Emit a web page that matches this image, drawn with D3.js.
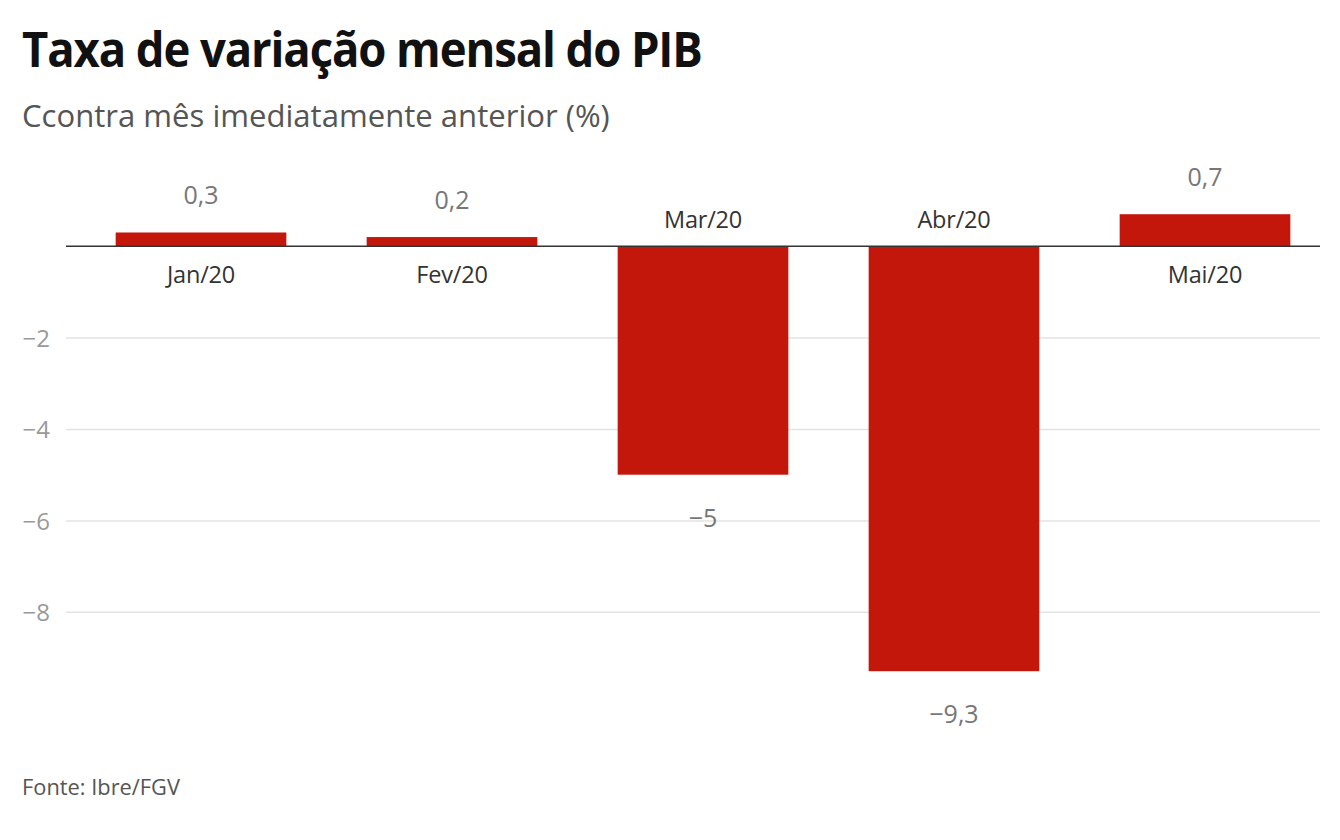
<!DOCTYPE html>
<html><head><meta charset="utf-8">
<script src="https://cdn.jsdelivr.net/npm/d3@7"></script>
<style>
html,body{margin:0;padding:0;background:#fff;}
svg{display:block;font-family:"Open Sans",sans-serif;}
</style></head>
<body><svg id="chart" width="1340" height="840"></svg>
<script>
const categories = ["Jan/20","Fev/20","Mar/20","Abr/20","Mai/20"];
const values = [0.3, 0.2, -5, -9.3, 0.7];
const yTicks = [-2, -4, -6, -8];
const title = "Taxa de variação mensal do PIB";
const subtitle = "Ccontra mês imediatamente anterior (%)";
const source = "Fonte: Ibre/FGV";

const loc = d3.formatLocale({decimal:",", thousands:".", grouping:[3], currency:["R$",""], minus:"\u2212"});
const fmt = loc.format("");
const fmtTick = loc.format("d");

const svg = d3.select("#chart");
const x = d3.scaleBand().domain(categories).range([75.5,1330.5]).paddingInner(0.32).paddingOuter(0.16);
const y = d3.scaleLinear().domain([0,-2]).range([246.2,337.6]);

function fitText(sel, left, width){
  const w = sel.node().getComputedTextLength();
  const s = width / w;
  sel.attr("x",0).attr("transform",`translate(${left},0) scale(${s},1)`);
}

const t = svg.append("text").attr("y",67).attr("font-size",49).attr("font-weight",700)
  .attr("letter-spacing",-1.2).attr("fill","#111").text(title);
fitText(t, 22, 680);
const st = svg.append("text").attr("y",127).attr("font-size",31).attr("fill","#555").text(subtitle);
fitText(st, 22, 588);
const ft = svg.append("text").attr("y",795).attr("font-size",22).attr("fill","#555").text(source);
fitText(ft, 22, 158);

// grid
const yAxis = d3.axisLeft(y).tickValues(yTicks).tickSize(-(1320-66)).tickPadding(16).tickFormat(fmtTick);
const gy = svg.append("g").attr("transform","translate(66,0)").call(yAxis);
gy.select(".domain").remove();
gy.selectAll(".tick line").attr("stroke","#e3e3e3").attr("stroke-width",1.5);
gy.selectAll(".tick text").attr("fill","#999").attr("font-size",24).attr("font-family","Open Sans, sans-serif").attr("x",-16).attr("dy","0.36em");

// bars
svg.append("g").selectAll("rect").data(values).join("rect")
  .attr("x",(d,i)=>x(categories[i])).attr("width",x.bandwidth())
  .attr("y",d=>y(Math.max(0,d))).attr("height",d=>Math.abs(y(d)-y(0)))
  .attr("fill","#c4170c");

// zero line
svg.append("line").attr("x1",66).attr("x2",1320).attr("y1",y(0)).attr("y2",y(0)).attr("stroke","#333").attr("stroke-width",1.5);

// category labels
svg.append("g").selectAll("text").data(values).join("text")
  .attr("x",(d,i)=>x(categories[i])+x.bandwidth()/2)
  .attr("y",d=> d>=0 ? y(0)+37 : y(0)-18)
  .attr("text-anchor","middle").attr("font-size",23.5).attr("fill","#333").attr("letter-spacing",-0.2)
  .text((d,i)=>categories[i]);

// value labels
svg.append("g").selectAll("text").data(values).join("text")
  .attr("x",(d,i)=>x(categories[i])+x.bandwidth()/2)
  .attr("y",d=> d>=0 ? y(d)-28 : y(d)+52)
  .attr("text-anchor","middle").attr("font-size",25).attr("fill","#777")
  .text(d=>fmt(d));
</script></body></html>
